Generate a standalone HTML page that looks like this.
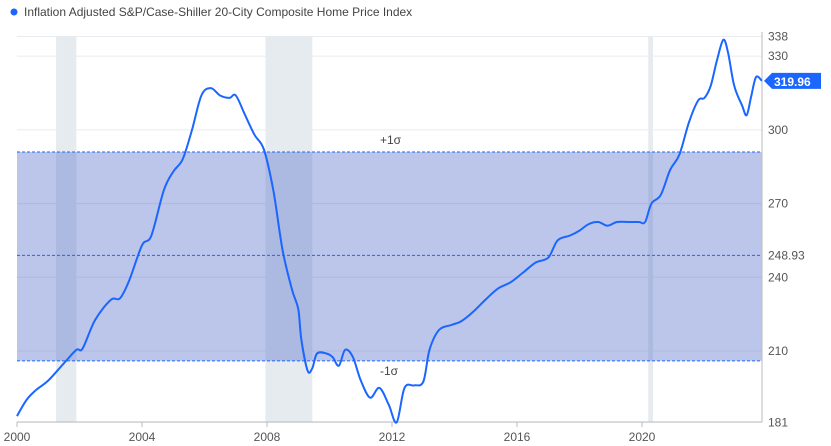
<!DOCTYPE html>
<html><head><meta charset="utf-8"><style>
body{margin:0;background:#fff;font-family:"Liberation Sans",sans-serif}
svg{display:block}
text{font-family:"Liberation Sans",sans-serif}
</style></head><body>
<svg id="c" width="831" height="446">
<g>
<circle cx="14" cy="12" r="3.5" fill="#1a66ff"/>
<text x="24" y="16" font-size="12" fill="#444">Inflation Adjusted S&amp;P/Case-Shiller 20-City Composite Home Price Index</text>
</g>
</svg>
<script>
const years=[2000.0,2000.3,2000.6,2001.0,2001.5,2001.9,2002.1,2002.5,2003.0,2003.3,2003.6,2004.0,2004.3,2004.7,2005.0,2005.3,2005.6,2005.9,2006.2,2006.5,2006.8,2007.0,2007.3,2007.6,2007.9,2008.2,2008.5,2008.8,2009.0,2009.1,2009.3,2009.45,2009.6,2009.9,2010.1,2010.3,2010.5,2010.75,2011.0,2011.3,2011.6,2011.9,2012.15,2012.4,2012.7,2013.0,2013.2,2013.5,2013.9,2014.2,2014.6,2015.0,2015.4,2015.8,2016.2,2016.6,2017.0,2017.3,2017.7,2018.0,2018.3,2018.6,2018.9,2019.2,2019.6,2019.9,2020.1,2020.3,2020.6,2020.9,2021.2,2021.5,2021.8,2022.0,2022.2,2022.4,2022.6,2022.75,2022.95,2023.2,2023.35,2023.5,2023.65,2023.84];
const values=[183.5,190,194,198,205,210.5,211,222.6,230.8,231.5,239,253,257,275.5,283,288,300,314,317,314,313,314,306,298,292,275.5,251,235,227,214.5,202,203,209,209,207.5,204,210.5,207.5,198,191,195,188,181,195,196,197.5,210.5,218.5,220.6,222,226,231,235.5,238,242,246,248,255,257,259,261.7,262.5,261,262.5,262.5,262.5,262.5,270,273.5,283.7,290,303,312,313,318,328.4,336.6,331.7,318,310,306,314,321.5,319.96];
const yTicks=[181,210,240,270,300,330,338];
const xTicks=[2000,2004,2008,2012,2016,2020];
const recessions=[[2001.25,2001.9],[2007.95,2009.45],[2020.2,2020.35]];
const mean=248.93, plus1=291, minus1=206;
const X=y=>17+(y-2000)*31.25, Y=v=>351-(v-210)*2.457;
const svg=document.getElementById('c'),NS='http://www.w3.org/2000/svg';
function mk(t,a,txt){const e=document.createElementNS(NS,t);for(const k in a)e.setAttribute(k,a[k]);if(txt!=null)e.textContent=txt;svg.appendChild(e);return e;}
yTicks.forEach(v=>{const g=mk('line',{x1:17,x2:762,y1:Y(v),y2:Y(v),stroke:'#e8ebf0'});


const t=mk('text',{x:768,y:Y(v)+4,'font-size':12,fill:'#555'},v);

});
recessions.forEach(r=>{const e=mk('rect',{x:X(r[0]),y:36,width:X(r[1])-X(r[0]),height:386,fill:'#e6ebf0'});

});
const band=mk('rect',{x:17,y:Y(plus1),width:745,height:Y(minus1)-Y(plus1),fill:'#3f5bc4','fill-opacity':0.35});


[[plus1,'+1σ',-8,'plus-sigma'],[mean,'',0,'mean'],[minus1,'-1σ',14,'minus-sigma']].forEach(d=>{
const l=mk('line',{x1:17,x2:762,y1:Y(d[0]),y2:Y(d[0]),stroke:'#1a66ff','stroke-dasharray':'3,2'});


if(d[1]){const t=mk('text',{x:380,y:Y(d[0])+d[2],'font-size':12,fill:'#444'},d[1]);

}});
const ml=mk('text',{x:768,y:Y(mean)+4,'font-size':12,fill:'#555'},mean.toFixed(2));


const ax=mk('line',{x1:17,x2:762,y1:422,y2:422,stroke:'#bbb'});


const ay=mk('line',{x1:762,x2:762,y1:32,y2:422,stroke:'#bbb'});


xTicks.forEach(y=>{const tk=mk('line',{x1:X(y),x2:X(y),y1:422,y2:427,stroke:'#bbb'});


const t=mk('text',{x:X(y),y:441,'font-size':12,fill:'#555','text-anchor':'middle'},y);

});
const pts=years.map((y,i)=>[X(y),Y(values[i])]);
let d='M'+pts[0][0].toFixed(1)+','+pts[0][1].toFixed(1);
for(let i=0;i<pts.length-1;i++){const p0=pts[Math.max(0,i-1)],p1=pts[i],p2=pts[i+1],p3=pts[Math.min(pts.length-1,i+2)];
const c1=[p1[0]+(p2[0]-p0[0])/6,p1[1]+(p2[1]-p0[1])/6],c2=[p2[0]-(p3[0]-p1[0])/6,p2[1]-(p3[1]-p1[1])/6];
d+=`C${c1[0].toFixed(1)},${c1[1].toFixed(1)} ${c2[0].toFixed(1)},${c2[1].toFixed(1)} ${p2[0].toFixed(1)},${p2[1].toFixed(1)}`;}
const p=mk('path',{d:d,fill:'none',stroke:'#1a66ff','stroke-width':2,'stroke-linejoin':'round'});


const last=values[values.length-1],ly=Y(last);
const tag=mk('path',{d:`M764,${ly} L772,${ly-8} L821,${ly-8} L821,${ly+8} L772,${ly+8}Z`,fill:'#1a66ff'});


const tt=mk('text',{x:774,y:ly+5,'font-size':12,'font-weight':'bold',fill:'#fff'},last.toFixed(2));


</script>
</body></html>
